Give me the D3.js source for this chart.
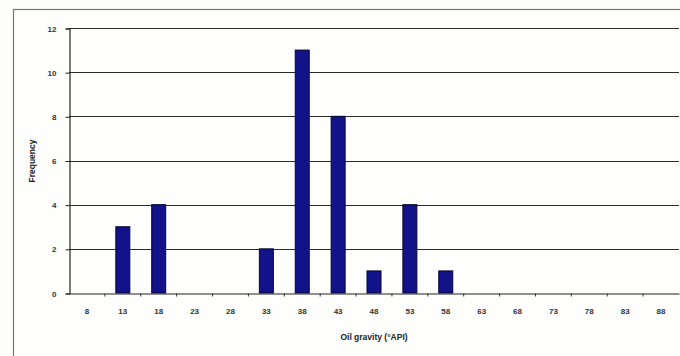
<!DOCTYPE html>
<html>
<head>
<meta charset="utf-8">
<script src="https://cdn.jsdelivr.net/npm/d3@7"></script>
<style>
  html, body { margin: 0; padding: 0; background: #fdfdfb; }
  svg { display: block; }
  text { font-family: "Liberation Sans", Arial, sans-serif; }
</style>
</head>
<body>
<svg id="chart" width="680" height="356"></svg>
<script>
const categories = ["8","13","18","23","28","33","38","43","48","53","58","63","68","73","78","83","88"];
const frequency  = [0, 3, 4, 0, 0, 2, 11, 8, 1, 4, 1, 0, 0, 0, 0, 0, 0];
const yTicks = [0, 2, 4, 6, 8, 10, 12];
const xTitle = "Oil gravity (°API)";
const yTitle = "Frequency";

const svg = d3.select("#chart");
const W = 680, H = 356;
const plot = { left: 69, right: 679, top: 28, bottom: 293 };

// outer chart border
svg.append("rect")
  .attr("x", 13.5).attr("y", 9.5)
  .attr("width", W + 10).attr("height", H + 10)
  .attr("fill", "#fefefc").attr("stroke", "#777").attr("stroke-width", 1.2);

const x = d3.scaleBand().domain(categories).range([plot.left, plot.right]).paddingInner(0.61).paddingOuter(0.305);
const xOuter = d3.scaleBand().domain(categories).range([plot.left, plot.right]).padding(0);
const y = d3.scaleLinear().domain([0, 12]).range([plot.bottom, plot.top]);

// gridlines
svg.append("g").selectAll("line").data(yTicks.filter(d => d > 0)).join("line")
  .attr("x1", plot.left).attr("x2", plot.right)
  .attr("y1", d => Math.round(y(d)) + 0.5).attr("y2", d => Math.round(y(d)) + 0.5)
  .attr("stroke", "#2a2a2a").attr("stroke-width", 1.1);

// y axis
const yAxis = d3.axisLeft(y).tickValues(yTicks).tickSize(4).tickPadding(9);
const gy = svg.append("g").attr("transform", `translate(${plot.left + 0.5},0.5)`).call(yAxis);
gy.select(".domain").attr("stroke", "#222").attr("stroke-width", 1.2);
gy.selectAll(".tick line").attr("stroke", "#222");
gy.selectAll("text").attr("font-size", 8).attr("font-weight", "bold").attr("fill", "#333");

// bars
svg.append("g").selectAll("rect").data(frequency.map((v, i) => ({ c: categories[i], v })).filter(d => d.v > 0)).join("rect")
  .attr("x", d => x(d.c)).attr("width", x.bandwidth())
  .attr("y", d => y(d.v)).attr("height", d => y(0) - y(d.v))
  .attr("fill", "#121289").attr("stroke", "#050530").attr("stroke-width", 1);

// x axis
const xAxis = d3.axisBottom(xOuter).tickSize(0).tickPadding(15);
const gx = svg.append("g").attr("transform", `translate(0,${plot.bottom + 0.5})`).call(xAxis);
gx.select(".domain").attr("stroke", "#222").attr("stroke-width", 1.2);
gx.selectAll("text").attr("font-size", 8).attr("font-weight", "bold").attr("fill", "#333");
// boundary tick marks
gx.append("g").selectAll("line").data(categories.slice(1)).join("line")
  .attr("x1", d => xOuter(d)).attr("x2", d => xOuter(d))
  .attr("y1", 0).attr("y2", 3).attr("stroke", "#333");

// titles
svg.append("text").attr("x", (plot.left + plot.right) / 2).attr("y", 340)
  .attr("text-anchor", "middle").attr("font-size", 8.5).attr("font-weight", "bold").attr("fill", "#222")
  .text(xTitle);
svg.append("text").attr("transform", `translate(35,${161}) rotate(-90)`)
  .attr("text-anchor", "middle").attr("font-size", 8.5).attr("font-weight", "bold").attr("fill", "#222")
  .text(yTitle);
</script>
</body>
</html>
